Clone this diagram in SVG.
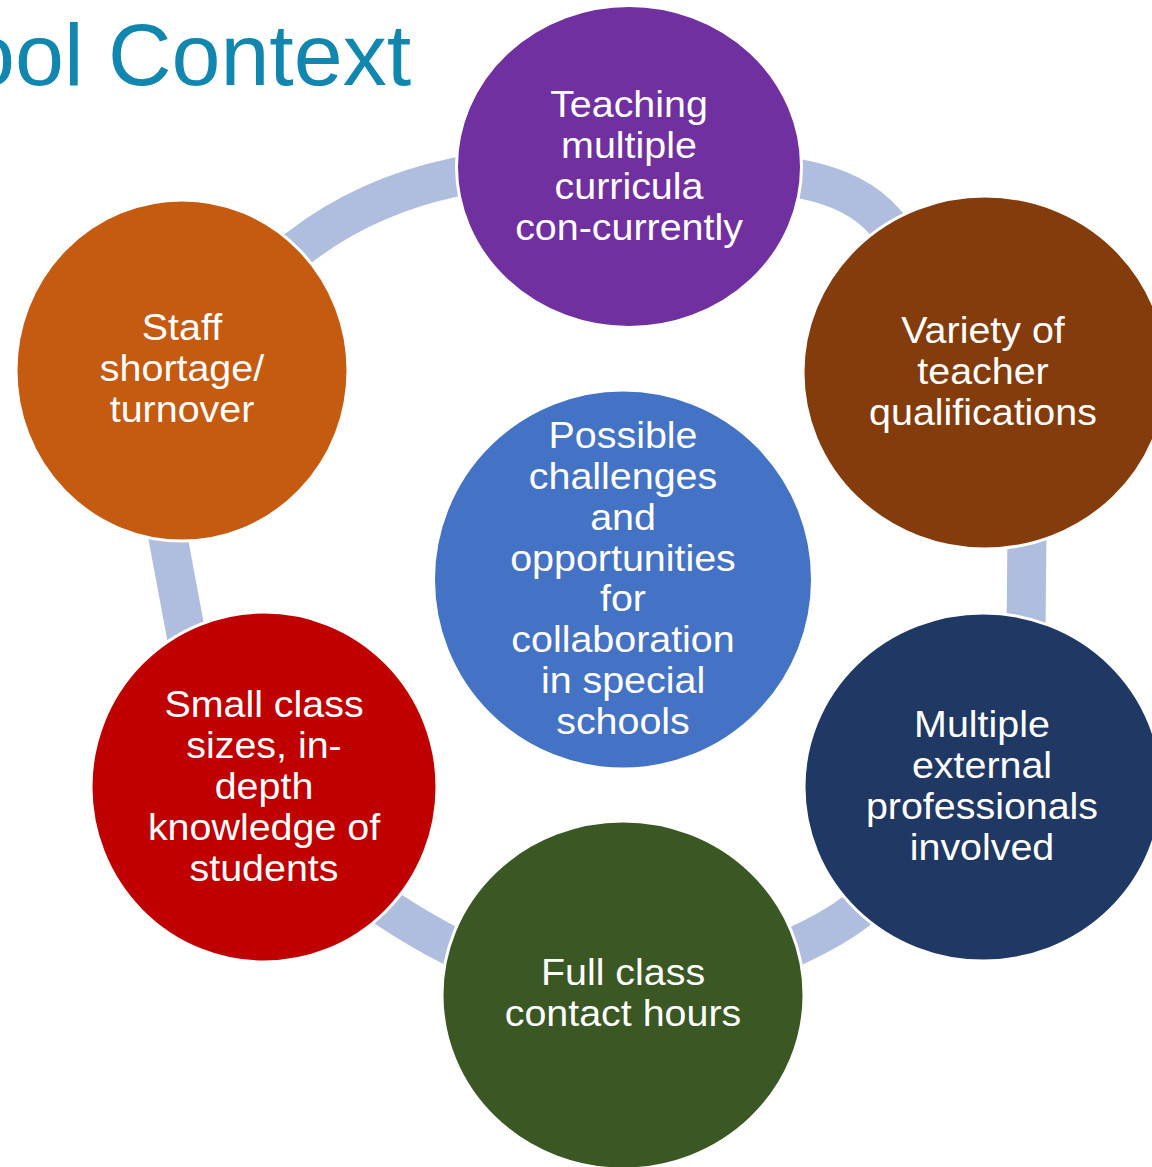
<svg xmlns="http://www.w3.org/2000/svg" width="1152" height="1167" viewBox="0 0 1152 1167">
<style>
.ring{fill:none;stroke:#AFBDDE;stroke-width:39;stroke-linecap:butt}
.node{stroke:#FFFFFF;stroke-width:3}
.t{font-family:"Liberation Sans",Arial,sans-serif;font-size:36.5px;fill:#FFFFFF;text-anchor:middle}
.title{font-family:"Liberation Sans",Arial,sans-serif;font-size:88px;fill:#1186AE}
</style>
<rect width="1152" height="1167" fill="#FFFFFF"/>
<text class="title" x="-34" y="85">ool Context</text>
<g id="connectors">
<path class="ring" d="M288 256 L300 247 Q366 196 456 177 L471 174"/>
<path class="ring" d="M786 176 L801 179 Q857 189.5 885 222 L895 233"/>
<path class="ring" d="M166 527 L188 645"/>
<path class="ring" d="M1027 528 L1026 635"/>
<path class="ring" d="M784.4 951.4 L798 945 Q833.25 928.65 855.5 911.7 L867.4 902.6"/>
<path class="ring" d="M376.5 901.4 L389 909.7 Q417.85 928.8 448.5 944.7 L461.8 951.6"/>
</g>
<g id="node-purple">
<ellipse class="node" cx="629" cy="166.5" rx="172.5" ry="161" fill="#7030A0"/>
<text class="t" transform="translate(629 0) scale(1.08 1)"><tspan x="0" y="117.5">Teaching</tspan><tspan x="0" y="158.5">multiple</tspan><tspan x="0" y="199.5">curricula</tspan><tspan x="0" y="240.5">con-currently</tspan></text>
</g>
<g id="node-brown">
<ellipse class="node" cx="985" cy="372.5" rx="182" ry="176.5" fill="#843C0C"/>
<text class="t" transform="translate(983 0) scale(1.08 1)"><tspan x="0" y="343.5">Variety of</tspan><tspan x="0" y="384.5">teacher</tspan><tspan x="0" y="425.5">qualifications</tspan></text>
</g>
<g id="node-orange">
<ellipse class="node" cx="182" cy="370.5" rx="166" ry="170.5" fill="#C55A11"/>
<text class="t" transform="translate(182 0) scale(1.08 1)"><tspan x="0" y="340.5">Staff</tspan><tspan x="0" y="381.5">shortage/</tspan><tspan x="0" y="422.5">turnover</tspan></text>
</g>
<g id="node-center">
<ellipse class="node" cx="623" cy="579.5" rx="189.5" ry="189.5" fill="#4472C4"/>
<text class="t" transform="translate(623 0) scale(1.08 1)"><tspan x="0" y="448.3">Possible</tspan><tspan x="0" y="489.1">challenges</tspan><tspan x="0" y="529.9">and</tspan><tspan x="0" y="570.7">opportunities</tspan><tspan x="0" y="611.5">for</tspan><tspan x="0" y="652.3">collaboration</tspan><tspan x="0" y="693.1">in special</tspan><tspan x="0" y="733.9">schools</tspan></text>
</g>
<g id="node-navy">
<ellipse class="node" cx="983" cy="787" rx="179" ry="174" fill="#203864"/>
<text class="t" transform="translate(982 0) scale(1.08 1)"><tspan x="0" y="737.5">Multiple</tspan><tspan x="0" y="778.5">external</tspan><tspan x="0" y="819.5">professionals</tspan><tspan x="0" y="860.5">involved</tspan></text>
</g>
<g id="node-green">
<ellipse class="node" cx="623" cy="995" rx="181" ry="174" fill="#3A5724"/>
<text class="t" transform="translate(623 0) scale(1.08 1)"><tspan x="0" y="985.5">Full class</tspan><tspan x="0" y="1026.5">contact hours</tspan></text>
</g>
<g id="node-red">
<ellipse class="node" cx="264" cy="787" rx="173" ry="175" fill="#C00000"/>
<text class="t" transform="translate(264 0) scale(1.08 1)"><tspan x="0" y="717.5">Small class</tspan><tspan x="0" y="758.5">sizes, in-</tspan><tspan x="0" y="799.5">depth</tspan><tspan x="0" y="840.5">knowledge of</tspan><tspan x="0" y="881.5">students</tspan></text>
</g>
</svg>
